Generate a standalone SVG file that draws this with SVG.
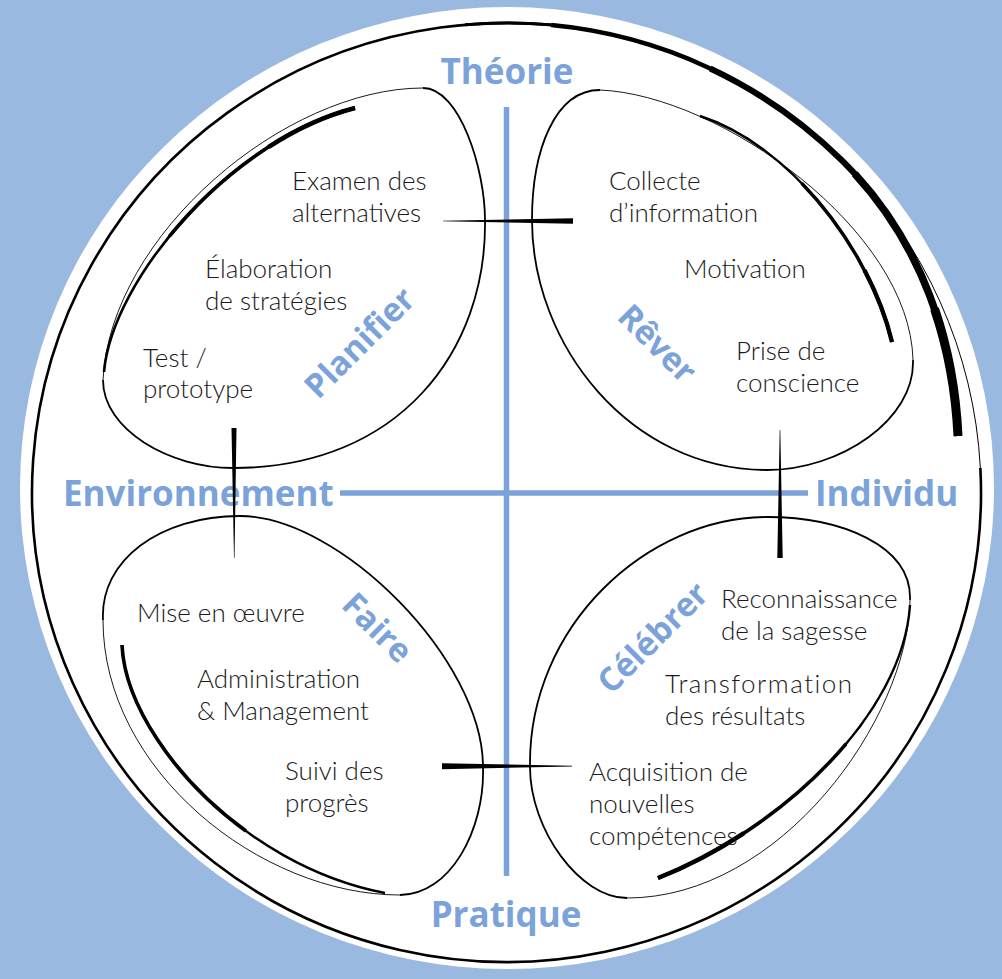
<svg xmlns="http://www.w3.org/2000/svg" width="1002" height="979" viewBox="0 0 1002 979">
<style>
.body{font-family:Lato,"Open Sans","Liberation Sans",sans-serif;font-weight:300;font-size:26px;fill:#1a1a1a}
.lbl{font-family:"Open Sans","Liberation Sans",sans-serif;font-weight:700;font-size:35px;fill:#7ba3d9}
.ttl{font-family:"Open Sans","Liberation Sans",sans-serif;font-weight:700;font-size:33px;fill:#7ba3d9}
.ol{fill:none;stroke:#000;stroke-width:1.8}
.thin{fill:none;stroke:#000;stroke-width:0.9}
.tk{fill:none;stroke:#000;stroke-linecap:butt}
.axis{stroke:#7ba3d9;stroke-width:5.5}
</style>
<defs>
<path id="ringArc" pathLength="100" d="M465.1,24.8 A474.5,469.5 0 0 1 842,160.5 C916.7,234.3 953,331 958,436"/>
<path id="arcP" pathLength="100" d="M104,372 C112,280 230,140 355,108"/>
<path id="arcR" pathLength="100" d="M700,116 C790,145 870,250 892,342"/>
<path id="arcF" pathLength="100" d="M122,645 C126,735 240,865 385,893"/>
<path id="arcC" pathLength="100" d="M910,605 C903,715 780,830 658,878"/>
</defs>
<rect width="1002" height="979" fill="#9ab9e0"/>
<ellipse cx="507" cy="488" rx="487" ry="481" fill="#fff"/>
<g id="ring">
<path d="M980.35,467.9 A474.5,469.5 0 1 1 842,160.5" fill="none" stroke="#000" stroke-width="2.6"/>
<path d="M842,160.5 A474.5,469.5 0 0 1 980.35,467.9" fill="none" stroke="#000" stroke-width="1"/>
<g class="tk">
<use href="#ringArc" stroke-width="3"/>
<use href="#ringArc" stroke-width="4.5" stroke-dasharray="0 12 88"/>
<use href="#ringArc" stroke-width="6" stroke-dasharray="0 35 65"/>
<use href="#ringArc" stroke-width="7.5" stroke-dasharray="0 60 40"/>
<use href="#ringArc" stroke-width="9" stroke-dasharray="0 82 18"/>
</g>
</g>
<g id="axes">
<line class="axis" x1="506.5" y1="107" x2="506.5" y2="876"/>
<line class="axis" x1="340" y1="493" x2="808" y2="493"/>
<text class="lbl" x="507" y="84" text-anchor="middle">Théorie</text>
<text class="lbl" x="506" y="927" text-anchor="middle">Pratique</text>
<text class="lbl" x="63" y="506">Environnement</text>
<text class="lbl" x="815" y="506">Individu</text>
</g>
<g id="planifier">
<path class="ol" d="M423,88 C460,88 485,170 485,220 C487,350 400,468 233,468 C170,468 103,430 103,380"/>
<path class="thin" d="M103,380 C110,235 285,88 423,88"/>
<g class="tk">
<use href="#arcP" stroke-width="2.6"/>
<use href="#arcP" stroke-width="3.6" stroke-dasharray="0 40 60"/>
<use href="#arcP" stroke-width="4.5" stroke-dasharray="0 75 25"/>
</g>
<text class="ttl" transform="translate(360,343) rotate(-45)" text-anchor="middle" y="11">Planifier</text>
<text class="body" x="292" y="190">Examen des</text>
<text class="body" x="292" y="222">alternatives</text>
<text class="body" x="205" y="278">Élaboration</text>
<text class="body" x="205" y="310">de stratégies</text>
<text class="body" x="143" y="367">Test /</text>
<text class="body" x="143" y="398">prototype</text>
</g>
<g id="rever">
<path class="ol" d="M913,360 C915,420 840,470 767,470 C630,470 532,345 532,220 C532,150 555,90 600,90"/>
<path class="thin" d="M600,90 C720,95 910,230 913,360"/>
<g class="tk">
<use href="#arcR" stroke-width="2.4"/>
<use href="#arcR" stroke-width="3.4" stroke-dasharray="0 40 60"/>
<use href="#arcR" stroke-width="4.3" stroke-dasharray="0 75 25"/>
</g>
<text class="ttl" transform="translate(657,344) rotate(45)" text-anchor="middle" y="11">Rêver</text>
<text class="body" x="609" y="190">Collecte</text>
<text class="body" x="609" y="222">d’information</text>
<text class="body" x="684" y="278">Motivation</text>
<text class="body" x="736" y="360">Prise de</text>
<text class="body" x="736" y="392">conscience</text>
</g>
<g id="faire">
<path class="ol" d="M103,620 C100,560 160,516 240,516 C340,516 483,660 483,767 C485,830 450,895 400,895"/>
<path class="thin" d="M400,895 C260,895 103,770 103,620"/>
<g class="tk">
<use href="#arcF" stroke-width="2.4"/>
<use href="#arcF" stroke-width="3.6" stroke-dasharray="0 0 60 40"/>
</g>
<text class="ttl" transform="translate(377,628) rotate(45)" text-anchor="middle" y="11">Faire</text>
<text class="body" x="137" y="622">Mise en œuvre</text>
<text class="body" x="197" y="688">Administration</text>
<text class="body" x="197" y="720">&amp; Management</text>
<text class="body" x="285" y="780">Suivi des</text>
<text class="body" x="285" y="812">progrès</text>
</g>
<g id="celebrer">
<path class="ol" d="M627,898 C580,898 530,830 530,767 C528,625 648,517 767,517 C840,517 912,545 910,600"/>
<path class="thin" d="M910,600 C908,720 780,898 627,898"/>
<g class="tk">
<use href="#arcC" stroke-width="2.4"/>
<use href="#arcC" stroke-width="3.5" stroke-dasharray="0 40 60"/>
<use href="#arcC" stroke-width="4.5" stroke-dasharray="0 75 25"/>
</g>
<text class="ttl" transform="translate(653,638) rotate(-45)" text-anchor="middle" y="11">Célébrer</text>
<text class="body" x="721" y="608">Reconnaissance</text>
<text class="body" x="721" y="640">de la sagesse</text>
<text class="body" x="665" y="693" letter-spacing="1.5">Transformation</text>
<text class="body" x="665" y="725">des résultats</text>
<text class="body" x="589" y="781">Acquisition de</text>
<text class="body" x="589" y="813">nouvelles</text>
<text class="body" x="589" y="845">compétences</text>
</g>
<g id="connectors" fill="#000">
<polygon points="443,220.7 573,218.3 573,223.7 443,221.3"/>
<polygon points="442,763.3 572,765.8 572,766.4 442,769.3"/>
<polygon points="231.5,428 236.5,428 234.5,558 234,558"/>
<polygon points="779.7,430 780.3,430 782.7,558 777.3,558"/>
</g>
</svg>
